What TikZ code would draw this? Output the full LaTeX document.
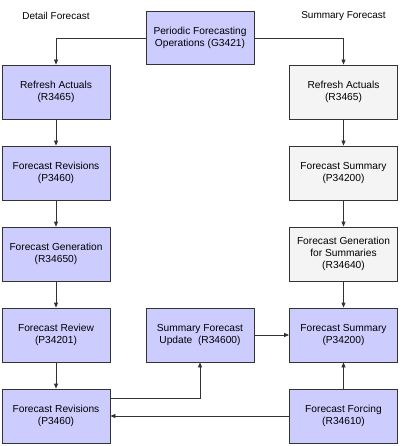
\documentclass[tikz,border=0pt]{standalone}
\usepackage{fontspec}
\setmainfont{Liberation Sans}
\usetikzlibrary{arrows.meta}
\definecolor{boxblue}{HTML}{CCCCFF}
\definecolor{boxgray}{HTML}{F4F4F4}
\definecolor{edge}{HTML}{333333}
\tikzset{
  base/.style={draw=edge, line width=0.8pt, minimum width=108pt, minimum height=54pt,
    inner sep=0pt, align=center, font=\fontsize{10.2}{12}\selectfont},
  bluebox/.style={base, fill=boxblue},
  graybox/.style={base, fill=boxgray},
  conn/.style={draw=edge, line width=0.8pt, -{Triangle[length=5pt,width=4pt]}},
  title/.style={font=\fontsize{10}{12}\selectfont}
}
\begin{document}
\begin{tikzpicture}[x=1pt,y=-1pt]
\useasboundingbox (0,0) rectangle (400,446);
\node[title] (tl) at (56,16) {Detail Forecast};
\node[title] (tr) at (343.5,16) {Summary Forecast};
\node[bluebox, minimum height=53pt] (top) at (200,38) {Periodic Forecasting\\Operations (G3421)};
\node[bluebox] (L1) at (56,92) {Refresh Actuals\\(R3465)};
\node[bluebox] (L2) at (56,173) {Forecast Revisions\\(P3460)};
\node[bluebox] (L3) at (56,254) {Forecast Generation\\(R34650)};
\node[bluebox] (L4) at (56,335) {Forecast Review\\(P34201)};
\node[bluebox] (L5) at (56,416) {Forecast Revisions\\(P3460)};
\node[bluebox] (M4) at (200,335) {Summary Forecast\\Update~ (R34600)};
\node[graybox] (R1) at (343.5,92) {Refresh Actuals\\(R3465)};
\node[graybox] (R2) at (343.5,173) {Forecast Summary\\(P34200)};
\node[graybox] (R3) at (343.5,254) {Forecast Generation\\for Summaries\\(R34640)};
\node[bluebox] (R4) at (343.5,335) {Forecast Summary\\(P34200)};
\node[bluebox] (R5) at (343.5,416) {Forecast Forcing\\(R34610)};
\draw[conn] (top.west) -| (L1.north);
\draw[conn] (top.east) -| (R1.north);
\draw[conn] (L1) -- (L2);
\draw[conn] (L2) -- (L3);
\draw[conn] (L3) -- (L4);
\draw[conn] (L4) -- (L5);
\draw[conn] (R1) -- (R2);
\draw[conn] (R2) -- (R3);
\draw[conn] (R3) -- (R4);
\draw[conn] (R5) -- (R4);
\draw[conn] (M4.east) -- (R4.west);
\draw[conn] ([yshift=18pt]L5.east) -| (M4.south);
\draw[conn] (R5.west) -- (L5.east);
\end{tikzpicture}
\end{document}
